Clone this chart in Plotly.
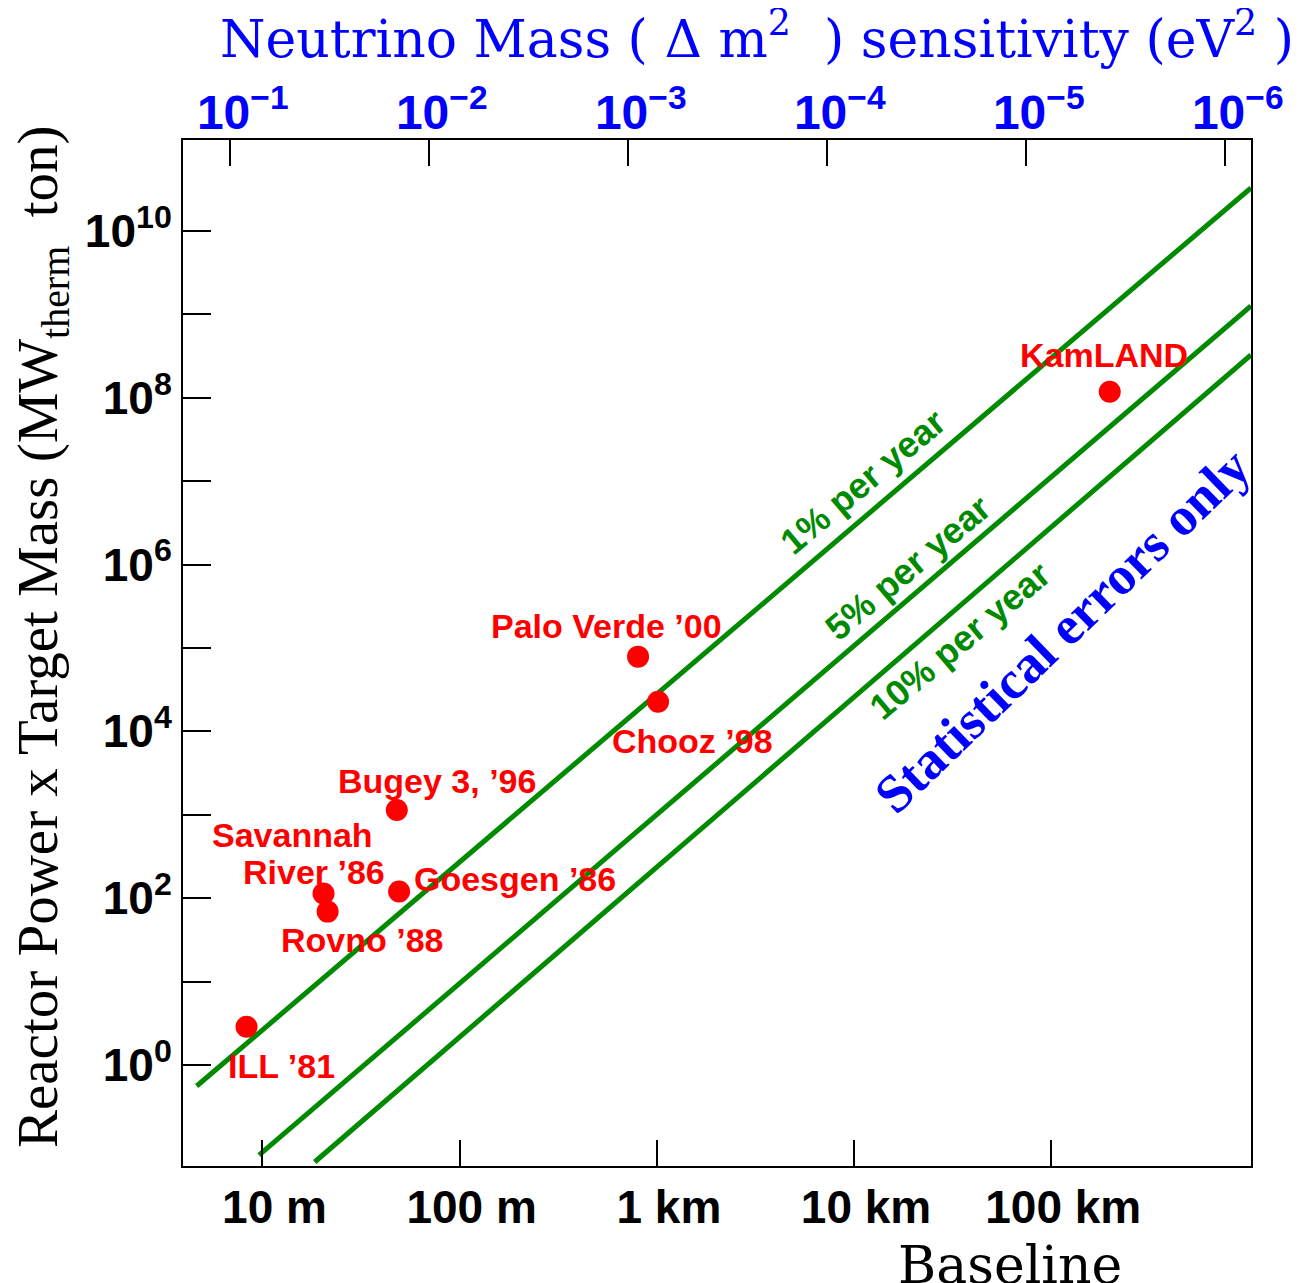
import numpy as np
import plotly.graph_objects as go

# ---------------- data ----------------
experiments = ["ILL ’81", "Savannah River ’86", "Rovno ’88", "Bugey 3, ’96",
               "Goesgen ’86", "Palo Verde ’00", "Chooz ’98", "KamLAND"]
baseline_m = [8.3, 20.4, 21.4, 48.0, 49.3, 803.0, 1014.0, 198000.0]
power_mass = [2.88, 114.0, 69.0, 1140.0, 120.0, 78700.0, 22700.0, 1.18e8]

# statistical-sensitivity lines (end points)
line_names = ["1% per year", "5% per year", "10% per year"]
line_baseline = [[4.64, 1.03e6], [9.6, 1.03e6], [18.4, 1.03e6]]
line_power_mass = [[0.56, 3.28e10], [0.083, 1.26e9], [0.0687, 3.26e8]]

# axis ticks
x_tickvals = [10, 100, 1000, 1e4, 1e5]
x_ticktext = ["10 m", "100 m", "1 km", "10 km", "100 km"]
dm2_tickvals = [1e-1, 1e-2, 1e-3, 1e-4, 1e-5, 1e-6]
dm2_ticktext = ["10<sup>−1</sup>", "10<sup>−2</sup>", "10<sup>−3</sup>",
                "10<sup>−4</sup>", "10<sup>−5</sup>", "10<sup>−6</sup>"]
y_major_exponents = [0, 2, 4, 6, 8, 10]
y_minor_exponents = [1, 3, 5, 7, 9]

# ---------------- label placement (log10 coordinates) ----------------
exp_labels = ["ILL ’81", "Savannah", "River ’86", "Rovno ’88", "Bugey 3, ’96",
              "Goesgen ’86", "Palo Verde ’00", "Chooz ’98", "KamLAND"]
exp_label_x = [1.099, 1.150, 1.262, 1.505, 1.885, 2.281, 2.747, 3.183, 5.268]
exp_label_y = [-0.012, 2.758, 2.314, 1.499, 3.405, 2.230, 5.264, 3.885, 8.513]
line_label_x = [4.046, 4.274, 4.538]
line_label_y = [6.990, 5.959, 5.084]

RED = "#ff0000"
GREEN = "#008a00"
BLUE = "#0000ff"
SANS = "Liberation Sans, Arial, sans-serif"
SERIF = "DejaVu Serif, serif"
TIMES = "Liberation Serif, Times New Roman, serif"

fig = go.Figure()

for name, xs, ys in zip(line_names, line_baseline, line_power_mass):
    fig.add_trace(go.Scatter(x=xs, y=ys, mode="lines", name=name,
                             line=dict(color=GREEN, width=5),
                             showlegend=False, hoverinfo="skip"))

fig.add_trace(go.Scatter(x=baseline_m, y=power_mass, mode="markers",
                         text=experiments, showlegend=False,
                         marker=dict(color=RED, size=22, line=dict(width=0))))

# empty trace binding the top (Δm²) axis
fig.add_trace(go.Scatter(x=[], y=[], xaxis="x2", yaxis="y", showlegend=False))

annotations = []
for t, lx, ly in zip(exp_labels, exp_label_x, exp_label_y):
    annotations.append(dict(x=lx, y=ly, xref="x", yref="y", text=t, showarrow=False,
                            font=dict(family=SANS, size=34, color=RED, weight="bold"),
                            xanchor="center", yanchor="middle"))
for t, lx, ly in zip(line_names, line_label_x, line_label_y):
    annotations.append(dict(x=lx, y=ly, xref="x", yref="y", text=t, showarrow=False,
                            textangle=-40,
                            font=dict(family=SANS, size=36, color=GREEN, weight="bold"),
                            xanchor="center", yanchor="middle"))
annotations.append(dict(x=5.055, y=5.204, xref="x", yref="y",
                        text="Statistical errors only", showarrow=False, textangle=-44,
                        font=dict(family=TIMES, size=54, color=BLUE, weight="bold"),
                        xanchor="center", yanchor="middle"))
# axis titles
annotations.append(dict(x=-0.132, y=0.5156, xref="paper", yref="paper",
                        text="Reactor Power x Target Mass (MW<sub>therm</sub>\u00a0\u00a0ton)",
                        textangle=-90, showarrow=False,
                        font=dict(family=TIMES, size=57, color="black"),
                        xanchor="center", yanchor="middle"))
annotations.append(dict(x=0.5375, y=1.1023, xref="paper", yref="paper",
                        text="Neutrino Mass ( Δ m<sup>2</sup>\u00a0\u00a0) sensitivity (eV<sup>2</sup>\u00a0)",
                        showarrow=False,
                        font=dict(family=SERIF, size=52, color=BLUE),
                        xanchor="center", yanchor="middle"))
annotations.append(dict(x=0.774, y=-0.0966, xref="paper", yref="paper",
                        text="Baseline", showarrow=False,
                        font=dict(family=SERIF, size=52, color="black"),
                        xanchor="center", yanchor="middle"))

y_tickvals = [10.0 ** e for e in y_major_exponents]
y_ticktext = ["10<sup>%d</sup>" % e for e in y_major_exponents]
y_minorvals = [10.0 ** e for e in y_minor_exponents]

fig.update_layout(
    width=1291, height=1275,
    margin=dict(l=175, r=48, t=132, b=117),
    paper_bgcolor="white", plot_bgcolor="white",
    annotations=annotations,
    xaxis=dict(type="log", range=[0.597, 6.013], showgrid=False, zeroline=False,
               showline=True, linecolor="black", linewidth=2,
               ticks="inside", ticklen=26, tickwidth=2, tickcolor="black",
               tickvals=x_tickvals, ticktext=x_ticktext, ticklabelshift=12,
               tickfont=dict(family=SANS, size=46, color="black", weight="bold"),
               automargin=False),
    xaxis2=dict(type="log", range=[-0.765, -6.132], overlaying="x", side="top",
                anchor="y", showgrid=False, zeroline=False,
                showline=True, linecolor="black", linewidth=2,
                ticks="inside", ticklen=26, tickwidth=2, tickcolor="black",
                tickvals=dm2_tickvals, ticktext=dm2_ticktext,
                ticklabelstandoff=-10, ticklabelshift=-13,
                tickfont=dict(family=SANS, size=48, color=BLUE, weight="bold"),
                automargin=False),
    yaxis=dict(type="log", range=[-1.211, 11.09], showgrid=False, zeroline=False,
               showline=True, linecolor="black", linewidth=2, mirror=True,
               ticks="inside", ticklen=28, tickwidth=2, tickcolor="black",
               tickvals=y_tickvals, ticktext=y_ticktext,
               minor=dict(tickvals=y_minorvals, ticks="inside", ticklen=28,
                          tickwidth=2, tickcolor="black", showgrid=False),
               tickfont=dict(family=SANS, size=46, color="black", weight="bold"),
               automargin=False),
)

fig.write_html("out.html")
